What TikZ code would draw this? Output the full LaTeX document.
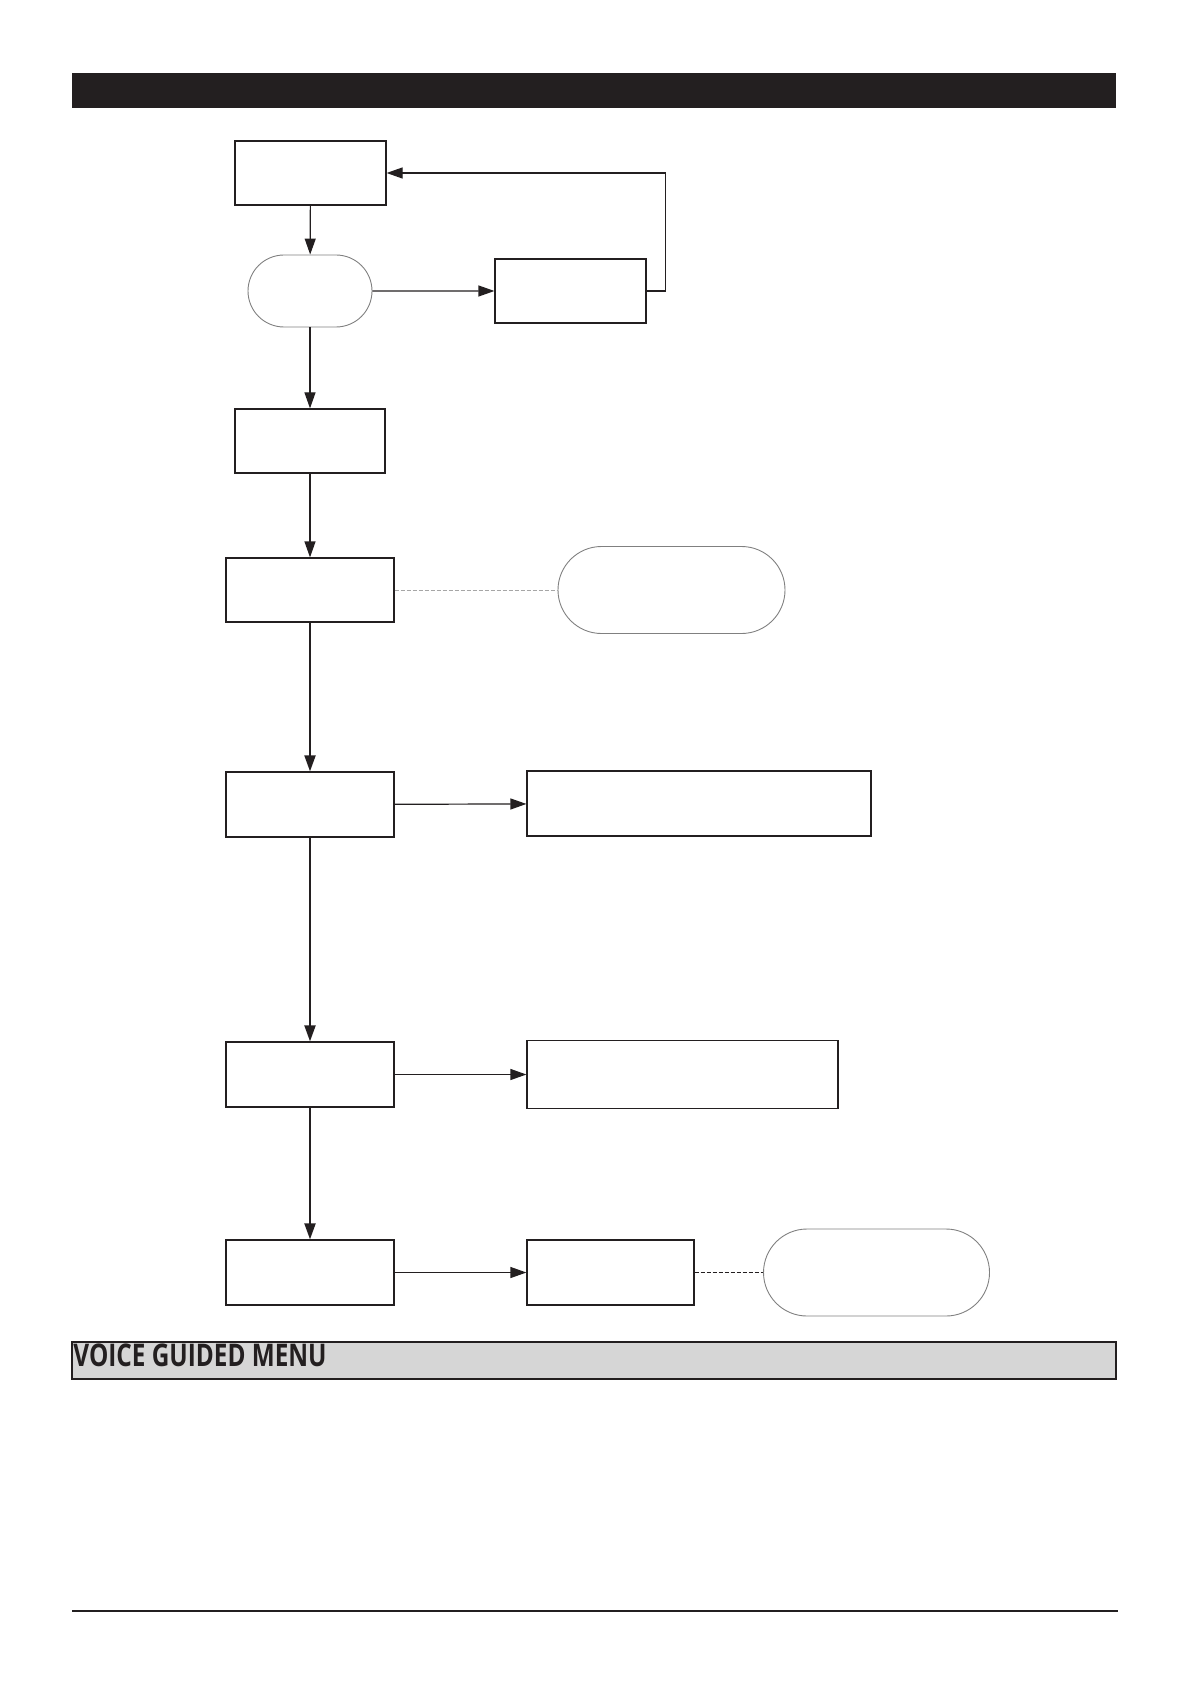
\documentclass[tikz,border=0pt]{standalone}
\usepackage{fontspec}
\newfontfamily\barfont[FakeStretch=0.78]{Open Sans}
\usetikzlibrary{arrows.meta,shapes.misc}
\definecolor{ink}{HTML}{231F20}
\definecolor{barfill}{HTML}{D6D6D6}

\begin{document}
\begin{tikzpicture}[x=.5pt,y=-.5pt,
 box/.style={draw=ink,line width=.6pt,inner sep=0,minimum height=32.5pt},
 pill/.style={rounded rectangle,draw=gray,line width=.45pt,inner sep=0},
 flow/.style={draw=ink,line width=.6pt,-{Triangle[length=8pt,width=5.5pt]}},
 mainflow/.style={flow,line width=1pt},
 link/.style={dashed,line width=.5pt,dash pattern=on 2pt off 1pt}]
\useasboundingbox(0,0)rectangle(1191,1684);
\fill[ink](72,73)rectangle(1116,108);
\draw[ink,line width=1pt,fill=barfill](72,1342)rectangle(1116,1379);
\node[anchor=north west,inner sep=0,text=ink](menu)at(73,1343){\barfont\bfseries\fontsize{15.6}{16}\selectfont VOICE GUIDED MENU};
\draw[ink,line width=1pt](72,1611)--(1118,1611);
\node[box,minimum width=75.5pt,minimum height=32pt](start)at(310.5,173){};
\node[pill,minimum width=62pt,minimum height=36pt](ask)at(310,291){};
\node[box,minimum width=75.5pt,minimum height=32pt](retry)at(570.5,291){};
\node[box,minimum width=75pt,minimum height=32pt](code)at(310,441){};
\node[box,minimum width=84pt,minimum height=32pt](voice)at(310,590){};
\node[pill,minimum width=113.5pt,minimum height=43.5pt](note)at(671.5,590){};
\node[box,minimum width=84pt](opta)at(310,804.5){};
\node[box,minimum width=172pt](resa)at(699,803.5){};
\node[box,minimum width=84pt](optb)at(310,1074.5){};
\node[box,minimum width=155.5pt,minimum height=34pt](resb)at(682.5,1074.5){};
\node[box,minimum width=84pt](optc)at(310,1272.5){};
\node[box,minimum width=83.5pt](resc)at(610.5,1272.5){};
\node[pill,minimum width=113pt,minimum height=43.5pt](tip)at(876.5,1272.5){};
\draw[flow](start)--(ask);\draw[flow](ask)--(retry);
\draw[flow](retry.east)--++(19,0)|-(start.east);
\draw[flow](ask)--(code);\draw[flow](code)--(voice);
\draw[link,draw=gray!70](voice)--(note);
\draw[mainflow](voice)--(opta);\draw[flow](opta)--(resa);
\draw[mainflow](opta)--(optb);\draw[flow](optb)--(resb);
\draw[mainflow](optb)--(optc);\draw[flow](optc)--(resc);
\draw[link,draw=ink](resc.east)--(tip.west);
\end{tikzpicture}
\end{document}
